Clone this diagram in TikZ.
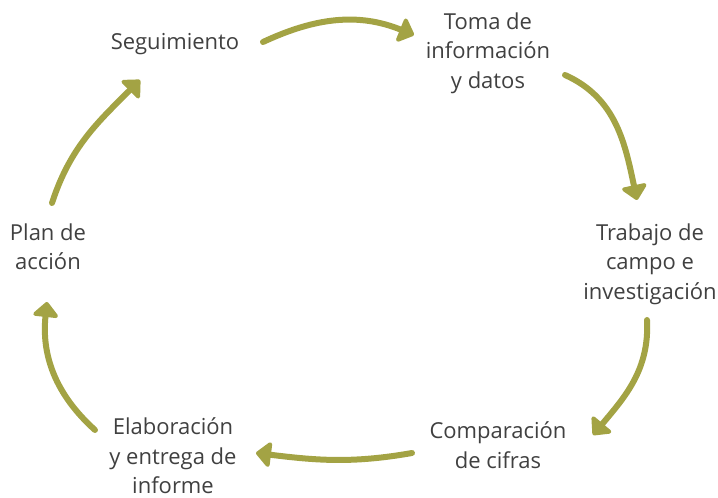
\documentclass[tikz,border=0pt]{standalone}
\usepackage{fontspec}
\setmainfont{Open Sans}
\usetikzlibrary{arrows.meta}
\definecolor{olive}{RGB}{163,163,68}
\definecolor{txt}{RGB}{64,64,64}
\tikzset{
  lbl/.style={align=center, text=txt, inner sep=0pt, font=\fontsize{22}{29.5}\selectfont},
  cyc/.style={draw=olive, line width=6pt, line cap=round,
    -{Triangle[length=16pt, width=29pt, round=false]}}
}
\begin{document}
\begin{tikzpicture}[x=1pt,y=1pt]
\useasboundingbox (0,0) rectangle (718,498);
\node[lbl] (seg) at (175,454) {Seguimiento};
\node[lbl] (toma) at (488,445) {Toma de\\información\\y datos};
\node[lbl] (trab) at (650,234) {Trabajo de\\campo e\\investigación};
\node[lbl] (comp) at (498,53) {Comparación\\de cifras};
\node[lbl] (elab) at (173,42) {Elaboración\\y entrega de\\informe};
\node[lbl] (plan) at (48,251) {Plan de\\acción};
\coordinate (a1s) at (263,456); \coordinate (a1e) at (414,463);
\coordinate (a2s) at (565,423); \coordinate (a2e) at (637,298);
\coordinate (a3s) at (647,178); \coordinate (a3e) at (593,63);
\coordinate (a4s) at (412,45);  \coordinate (a4e) at (256,45);
\coordinate (a5s) at (95,68);   \coordinate (a5e) at (47,196);
\coordinate (a6s) at (52,295);  \coordinate (a6e) at (140,418);
\draw[cyc] (a1s) to[out=25, in=158] (a1e);
\draw[cyc] (a2s) to[out=-24, in=102] (a2e);
\draw[cyc] (a3s) to[out=-87, in=50] (a3e);
\draw[cyc] (a4s) to[out=190, in=-7] (a4e);
\draw[cyc] (a5s) to[out=138, in=-96] (a5e);
\draw[cyc] (a6s) to[out=72, in=225] (a6e);
\end{tikzpicture}
\end{document}
